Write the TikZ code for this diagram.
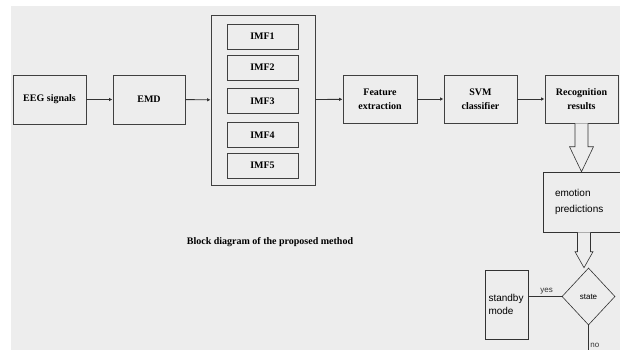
\documentclass[tikz,border=0pt]{standalone}
\usepackage{fontspec}
\setmainfont{Liberation Serif}
\setsansfont{Liberation Sans}
\usetikzlibrary{shapes.geometric,arrows.meta,calc}
\definecolor{bggray}{HTML}{EDEDED}
\tikzset{
  blk/.style={draw=black!75, line width=0.9pt, inner sep=0pt, align=center,
    font=\bfseries\fontsize{10}{14}\selectfont},
  sblk/.style={draw=black!80, line width=0.6pt, inner sep=0pt, align=left,
    font=\sffamily\fontsize{10}{16}\selectfont},
  conn/.style={black!80, line width=0.9pt, -{Latex[length=3.5pt,width=3.5pt]}},
  fat/.style={draw=black!80, line width=0.6pt, fill=bggray, line join=miter},
  tag/.style={font=\sffamily\fontsize{8}{9}\selectfont, inner sep=1.5pt}
}
% hollow arrow: from, to, head length, head half width
\newcommand{\fatarrow}[4]{%
  \draw[fat] let \p1 = (#1.south), \p2 = (#2.north) in
    (\x1-6.5pt,\y1) -- (\x1-6.5pt,\y2+#3) -- (\x1-#4,\y2+#3) -- (\x1,\y2)
    -- (\x1+#4,\y2+#3) -- (\x1+6.5pt,\y2+#3) -- (\x1+6.5pt,\y1);}

\begin{document}
\begin{tikzpicture}[x = 1pt, y = -1pt]
\useasboundingbox (0,0) rectangle (620,350);
\fill[bggray] (11,6) rectangle (620,350);

% first row
\node[blk, minimum width=73pt, minimum height=49pt] (EEG) at (49.5,99.5) {EEG signals};
\node[blk, minimum width=72pt, minimum height=49pt] (EMD) at (149,99.5) {EMD};
\node[blk, minimum width=104pt, minimum height=170pt] (IMF) at (263,100) {};
\foreach \i/\y in {1/36.5, 2/67.5, 3/101, 4/135, 5/165.5}
  \node[blk, minimum width=71pt, minimum height=25pt] (IMF\i) at (262.5,\y) {IMF\i};
\node[blk, minimum width=74pt, minimum height=48pt] (FEAT) at (380,99) {Feature\\extraction};
\node[blk, minimum width=73pt, minimum height=48pt] (SVM) at (480.5,99) {SVM\\classifier};
\node[blk, minimum width=73pt, minimum height=48pt] (REC) at (581.5,99) {Recognition\\results};

\draw[conn] (EEG) -- (EMD);
\draw[conn] (EMD) -- (IMF);
\draw[conn] (IMF) -- (FEAT);
\draw[conn] (FEAT) -- (SVM);
\draw[conn] (SVM) -- (REC);

% decision part
\node[sblk, minimum width=82pt, minimum height=60pt, text width=58pt] (EMO) at (584,202) {emotion\\predictions};
\node[draw=black!80, line width=0.6pt, diamond, inner sep=0pt, minimum width=53pt,
  minimum height=57pt, font=\sffamily\fontsize{8}{9}\selectfont] (STATE) at (588.5,296.5) {state};
\node[sblk, minimum width=43pt, minimum height=69pt, text width=36pt,
  font=\sffamily\fontsize{10}{13}\selectfont] (STBY) at (506.5,304.5) {standby\\mode};
\coordinate (END) at (588.5,352);

\fatarrow{REC}{EMO}{25pt}{12pt}
\fatarrow{EMO}{STATE}{16pt}{9pt}
\draw[black!80, line width=0.8pt] (STBY.east |- STATE.west) -- node[tag, above, pos=0.55]{yes} (STATE.west);
\draw[black!80, line width=0.8pt] (STATE.south) -- node[tag, right, pos=0.75]{no} (END);

\node[font=\bfseries\fontsize{10}{12}\selectfont] (CAP) at (270,242) {Block diagram of the proposed method};
\end{tikzpicture}
\end{document}
